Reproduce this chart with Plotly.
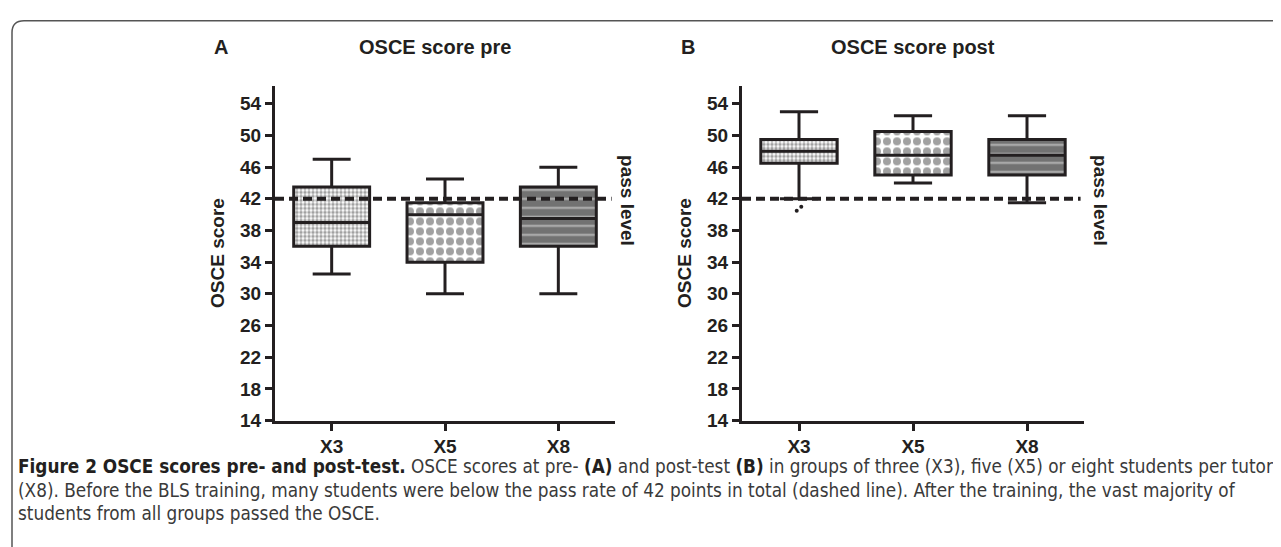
import plotly.graph_objects as go

W, H = 1281, 547

groups = ["X3", "X5", "X8"]
pos = [0, 1, 2]

# Panel A: OSCE score pre
pre_low = [32.5, 30.0, 30.0]
pre_q1 = [36.0, 34.0, 36.0]
pre_med = [39.0, 40.0, 39.5]
pre_q3 = [43.5, 41.5, 43.5]
pre_high = [47.0, 44.5, 46.0]

# Panel B: OSCE score post
post_low = [42.0, 44.0, 41.5]
post_q1 = [46.5, 45.0, 45.0]
post_med = [48.0, 47.5, 47.5]
post_q3 = [49.5, 50.5, 49.5]
post_high = [53.0, 52.5, 52.5]
post_outliers_group = [0, 0]
post_outliers_val = [40.5, 41.0]
post_outliers_jitter = [-0.02, 0.02]

pass_level = 42
yticks = list(range(14, 55, 4))

INK = "#231f20"
BOXW = 0.67

pat_shape = [".", ".", "-"]
pat_fg = ["#6e6e6e", "#777777", "#ffffff"]
pat_bg = ["#ffffff", "#ffffff", "#727272"]
pat_size = [4, 10, 9]
pat_sol = [0.6, 0.5, 0.2]


def px_x(p):
    return p / W


def px_y(p):
    return 1 - p / H


fig = go.Figure()

for xa, ya, low, q1, med, q3, high in [
    ("x", "y", pre_low, pre_q1, pre_med, pre_q3, pre_high),
    ("x2", "y2", post_low, post_q1, post_med, post_q3, post_high),
]:
    fig.add_trace(go.Bar(
        x=pos, y=[b - a for a, b in zip(q1, q3)], base=q1, width=BOXW,
        marker=dict(color=pat_bg, line=dict(width=0),
                    pattern=dict(shape=pat_shape, fgcolor=pat_fg, bgcolor=pat_bg,
                                 size=pat_size, solidity=pat_sol, fillmode="overlay")),
        xaxis=xa, yaxis=ya, showlegend=False, hoverinfo="skip"))
    fig.add_trace(go.Box(
        x=pos, q1=q1, median=med, q3=q3, lowerfence=low, upperfence=high,
        width=BOXW, whiskerwidth=0.5, fillcolor="rgba(0,0,0,0)",
        line=dict(color=INK, width=3), boxpoints=False,
        xaxis=xa, yaxis=ya, showlegend=False))

fig.add_trace(go.Scatter(
    x=[g + j for g, j in zip(post_outliers_group, post_outliers_jitter)],
    y=post_outliers_val, mode="markers",
    marker=dict(color=INK, size=4), xaxis="x2", yaxis="y2", showlegend=False))

axis_common = dict(showline=True, linewidth=3, linecolor=INK, showgrid=False,
                   zeroline=False, ticks="outside", ticklen=7, tickwidth=3,
                   tickcolor=INK, mirror=False,
                   tickfont=dict(family="Liberation Sans", size=19, color=INK, weight="bold"))

yd = [px_y(421), px_y(80)]
fig.update_layout(
    width=W, height=H, margin=dict(l=0, r=0, t=0, b=0),
    paper_bgcolor="white", plot_bgcolor="white",
    barmode="overlay", boxmode="overlay",
    xaxis=dict(domain=[px_x(267), px_x(607)], range=[-0.5, 2.5], tickvals=pos,
               ticktext=groups, anchor="y", **axis_common),
    yaxis=dict(domain=yd, range=[14, 56.2], tickvals=yticks, anchor="x", **axis_common),
    xaxis2=dict(domain=[px_x(734), px_x(1076)], range=[-0.5, 2.5], tickvals=pos,
                ticktext=groups, anchor="y2", **axis_common),
    yaxis2=dict(domain=yd, range=[14, 56.2], tickvals=yticks, anchor="x2", **axis_common),
)

for xr, yr in [("x", "y"), ("x2", "y2")]:
    fig.add_shape(type="line", xref=f"{xr} domain", yref=yr, x0=0, x1=0.99,
                  y0=pass_level, y1=pass_level,
                  line=dict(color=INK, width=4, dash="9px,5px"))

bold = dict(family="Liberation Sans", color=INK, weight="bold")
ann = []
for label, x in [("A", 213), ("B", 680)]:
    ann.append(dict(text=label, x=px_x(x), y=px_y(40), font=dict(size=20, **bold)))
for label, x in [("OSCE score pre", 427), ("OSCE score post", 905)]:
    ann.append(dict(text=label, x=px_x(x), y=px_y(40), font=dict(size=20, **bold)))
for x in [210, 677]:
    ann.append(dict(text="OSCE score", x=px_x(x), y=px_y(250), textangle=-90,
                    font=dict(size=19, **bold)))
for x in [620, 1093]:
    ann.append(dict(text="pass level", x=px_x(x), y=px_y(196), textangle=90,
                    font=dict(size=19, **bold)))

cap_font = dict(family="DejaVu Sans Condensed, Liberation Sans", size=18.8, color="#3a3a3a")
captions = [
    "<b style='color:#231f20'>Figure 2 OSCE scores pre- and post-test.</b> OSCE scores at pre- <b style='color:#231f20'>(A)</b> and post-test <b style='color:#231f20'>(B)</b> in groups of three (X3), five (X5) or eight students per tutor",
    "(X8). Before the BLS training, many students were below the pass rate of 42 points in total (dashed line). After the training, the vast majority of",
    "students from all groups passed the OSCE.",
]
for i, c in enumerate(captions):
    ann.append(dict(text=c, x=px_x(8), y=px_y(468 + 24 * i), xanchor="left", font=cap_font))

for a in ann:
    a.setdefault("xref", "paper")
    a.setdefault("yref", "paper")
    a.setdefault("showarrow", False)
    a.setdefault("yanchor", "middle")
    a.setdefault("xanchor", "center")
fig.update_layout(annotations=ann)

fig.add_shape(type="path", xref="paper", yref="paper",
              path=f"M {px_x(4)},{px_y(560)} L {px_x(4)},{px_y(25)} Q {px_x(4)},{px_y(13)} {px_x(16)},{px_y(13)} L {px_x(1300)},{px_y(13)}",
              line=dict(color="#555555", width=1.5))

fig.write_html("out.html")
